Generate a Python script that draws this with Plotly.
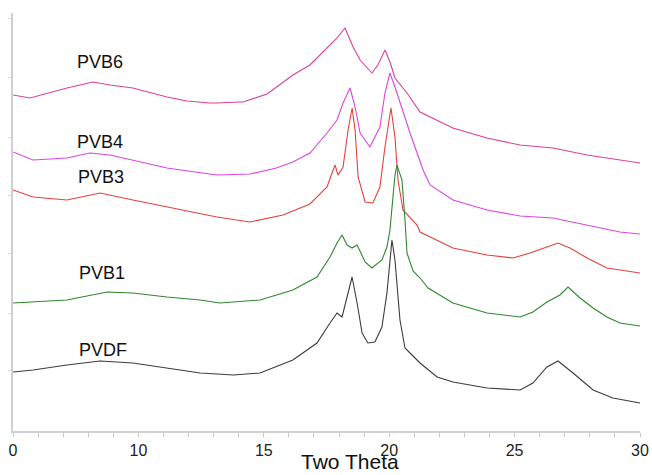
import plotly.graph_objects as go

# ---- data (two-theta in degrees, intensity in arbitrary stacked units) ----
pvb6_x = [5.00, 5.68, 7.15, 8.19, 8.87, 9.78, 11.14, 11.94, 12.85, 13.13, 14.05, 14.17, 15.13, 15.50, 16.16, 16.84,
          17.52, 17.92, 18.24, 18.56, 18.84, 19.31, 19.55, 19.83, 20.03, 20.23, 20.71, 21.23, 22.54, 23.90,
          25.22, 26.53, 27.89, 29.20, 30.00]
pvb6_y = [336, 333, 343, 349, 346, 343, 334, 330, 328, 328, 329, 329, 337, 344, 356, 366,
          383, 393, 403, 384, 371, 358, 366, 381, 369, 353, 338, 319, 303, 293,
          286, 283, 276, 271, 268]

pvb4_x = [5.00, 5.80, 7.15, 8.07, 8.87, 9.78, 11.14, 13.13, 14.45, 15.50, 16.16, 16.84, 17.52, 17.92, 18.16,
          18.44, 18.64, 18.84, 19.23, 19.63, 19.83, 20.03, 20.23, 20.83, 21.35, 21.63, 22.54, 23.90,
          25.22, 26.53, 27.89, 29.20, 30.00]
pvb4_y = [279, 271, 273, 278, 276, 271, 263, 256, 257, 263, 269, 278, 298, 311, 328,
          343, 324, 298, 284, 304, 338, 358, 344, 298, 261, 246, 231, 221,
          215, 213, 206, 199, 197]

pvb3_x = [5.00, 5.80, 7.15, 8.47, 9.78, 11.14, 13.13, 14.45, 15.77, 16.84, 17.52, 17.72, 17.84, 17.96, 18.16,
          18.36, 18.52, 18.64, 18.76, 19.04, 19.35, 19.63, 19.83, 20.07, 20.23, 20.35, 20.55, 21.11,
          21.23, 22.54, 23.90, 24.94, 25.61, 26.29, 26.73, 27.21, 27.89, 28.68, 30.00]
pvb3_y = [241, 234, 231, 238, 231, 224, 214, 209, 216, 227, 244, 258, 266, 256, 264,
          301, 323, 301, 254, 229, 228, 244, 284, 323, 294, 251, 221, 206,
          199, 183, 176, 173, 178, 184, 188, 183, 173, 163, 158]

pvb1_x = [5.00, 5.80, 7.15, 8.75, 9.78, 11.14, 12.46, 13.25, 14.85, 16.16, 17.12, 17.64, 17.92, 18.12, 18.32,
          18.52, 18.72, 19.04, 19.31, 19.71, 19.91, 20.03, 20.23, 20.31, 20.51, 20.63, 20.71, 20.95,
          21.23, 21.55, 22.54, 23.90, 25.22, 25.73, 26.29, 26.81, 27.13, 27.61, 28.13, 28.68, 29.20, 30.00]
pvb1_y = [128, 129, 131, 139, 138, 134, 131, 128, 131, 141, 154, 174, 188, 196, 186,
          183, 186, 169, 163, 171, 184, 201, 256, 266, 251, 211, 178, 160,
          153, 143, 128, 118, 114, 119, 129, 136, 144, 133, 123, 114, 108, 105]

pvdf_x = [5.00, 5.80, 7.15, 8.47, 9.78, 11.14, 12.46, 13.80, 14.85, 16.16, 17.12, 17.64, 17.92, 18.12, 18.36,
          18.52, 18.72, 18.92, 19.15, 19.43, 19.71, 19.91, 20.11, 20.23, 20.43, 20.63, 20.83, 21.23,
          21.91, 22.54, 23.90, 25.22, 25.73, 26.29, 26.73, 27.33, 28.13, 28.92, 30.00]
pvdf_y = [59, 61, 66, 70, 68, 63, 58, 56, 58, 71, 88, 108, 118, 114, 138,
          154, 128, 98, 88, 89, 104, 138, 191, 171, 111, 83, 78, 68,
          54, 49, 43, 41, 48, 64, 70, 58, 41, 33, 28]

series_names = ["PVB6", "PVB4", "PVB3", "PVB1", "PVDF"]
series_colors = ["#de3f9c", "#dc45e0", "#e4423c", "#2f872f", "#3c3c3c"]
label_x = [8.45, 8.45, 8.50, 8.55, 8.60]
label_y = [369, 289, 254, 158, 81]

tick_vals = [5, 10, 15, 20, 25, 30]
tick_text = ["0", "10", "15", "20", "25", "30"]

xs = [pvb6_x, pvb4_x, pvb3_x, pvb1_x, pvdf_x]
ys = [pvb6_y, pvb4_y, pvb3_y, pvb1_y, pvdf_y]

FONT = "Arial, Liberation Sans, sans-serif"

fig = go.Figure()
for name, x, y, c in zip(series_names, xs, ys, series_colors):
    fig.add_trace(go.Scatter(x=x, y=y, mode="lines", name=name,
                             line=dict(color=c, width=1.1), showlegend=False))

for name, lx, ly in zip(series_names, label_x, label_y):
    fig.add_annotation(x=lx, y=ly, text=name, showarrow=False,
                       font=dict(family=FONT, size=18, color="#111111"))

fig.add_annotation(x=0.537, y=-0.104, xref="paper", yref="paper", text="Two Theta",
                   showarrow=False, yanchor="bottom", xanchor="center", borderpad=0,
                   font=dict(family=FONT, size=21, color="#111111"))

fig.update_layout(
    width=652, height=475,
    margin=dict(l=13, r=12, t=13, b=44),
    paper_bgcolor="white", plot_bgcolor="white",
    xaxis=dict(range=[5, 30], tickvals=tick_vals, ticktext=tick_text, automargin=False,
               showgrid=False, zeroline=False, showline=True, linecolor="#d0d0d0", linewidth=1.5,
               ticks="outside", ticklen=4, tickcolor="#c8c8c8",
               minor=dict(dtick=1, ticks="outside", ticklen=4, tickcolor="#c8c8c8"),
               tickfont=dict(family=FONT, size=16, color="#222222")),
    yaxis=dict(range=[0, 418], showgrid=False, zeroline=False, showline=True, automargin=False,
               linecolor="#d0d0d0", linewidth=1.5, showticklabels=False,
               tickvals=[61, 118, 178, 236, 294, 354, 413], ticks="outside", ticklen=3,
               tickcolor="#d8d8d8"),
)

fig.write_html("out.html")
